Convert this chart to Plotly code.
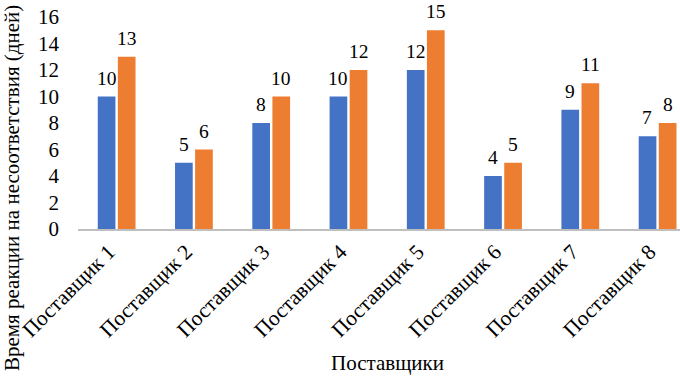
import plotly.graph_objects as go

categories = ["Поставщик 1", "Поставщик 2", "Поставщик 3", "Поставщик 4",
              "Поставщик 5", "Поставщик 6", "Поставщик 7", "Поставщик 8"]
series_a = [10, 5, 8, 10, 12, 4, 9, 7]
series_b = [13, 6, 10, 12, 15, 5, 11, 8]
y_ticks = [0, 2, 4, 6, 8, 10, 12, 14, 16]

FONT = "Liberation Serif, Times New Roman, serif"
COLORS = ["#4472C4", "#ED7D31"]

fig = go.Figure()
for vals, color in zip([series_a, series_b], COLORS):
    fig.add_trace(go.Bar(
        x=categories, y=vals, marker=dict(color=color, line=dict(width=0)),
        showlegend=False, hoverinfo="skip",
    ))

# data labels above each bar (offset by half a bar slot within the group)
annotations = []
slot_px = 10.1
for i, vals in enumerate([series_a, series_b]):
    shift = -slot_px if i == 0 else slot_px
    for cat, v in zip(categories, vals):
        annotations.append(dict(
            x=cat, y=v, xref="x", yref="y", text=str(v), showarrow=False,
            xanchor="center", yanchor="bottom", xshift=shift, yshift=7,
            borderpad=0,
            font=dict(family=FONT, size=19.5, color="#000000"),
        ))

annotations += [
    dict(text="Время реакции на несоответствия (дней)", textangle=-90,
         xref="paper", yref="paper", x=(12-78)/602, y=(229-188)/212,
         xanchor="center", yanchor="middle", showarrow=False,
         font=dict(family=FONT, size=21, color="#000000")),
    dict(text="Поставщики", xref="paper", yref="paper",
         x=(387-78)/602, y=(229-363)/212, xanchor="center", yanchor="middle",
         showarrow=False, font=dict(family=FONT, size=21, color="#000000")),
]

fig.update_layout(
    width=680, height=379,
    margin=dict(l=78, r=0, t=17, b=150),
    paper_bgcolor="white", plot_bgcolor="white",
    barmode="group", bargap=0.48, bargroupgap=0.12,
    font=dict(family=FONT, size=20, color="#000000"),
    xaxis=dict(
        range=[-0.5, 7.29], tickangle=-45, showgrid=False, automargin=False,
        showline=True, linecolor="#BFBFBF", linewidth=1.5,
        ticks="", ticklabelshift=-8,
        tickfont=dict(family=FONT, size=21.5, color="#000000"),
    ),
    yaxis=dict(
        range=[0, 16], tickvals=y_ticks, showgrid=False, zeroline=False,
        showline=False, ticks="", ticklabelstandoff=18, automargin=False,
        tickfont=dict(family=FONT, size=21, color="#000000"),
    ),
    annotations=annotations,
)

fig.write_html(
    "out.html",
    config={"displayModeBar": False},
    post_script="document.body.style.margin='0';document.body.style.padding='0';",
)
